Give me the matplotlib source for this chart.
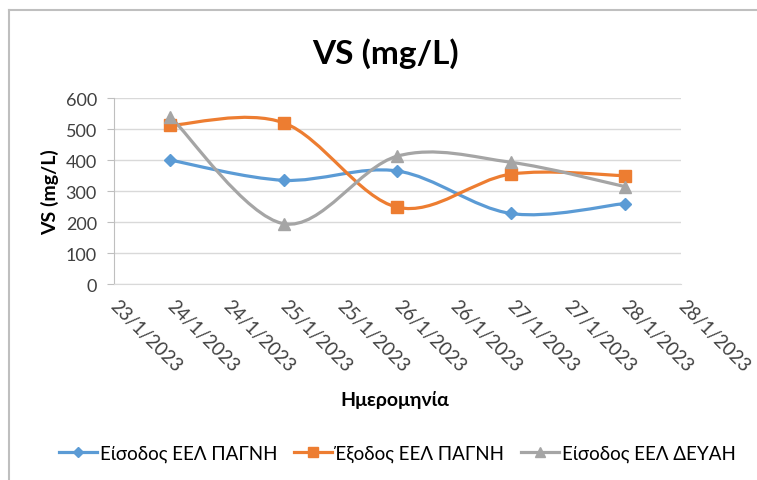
import matplotlib
matplotlib.use("Agg")
import matplotlib.pyplot as plt
import matplotlib.dates as mdates
import matplotlib.transforms as mtransforms
from matplotlib.path import Path
from matplotlib.patches import PathPatch
from matplotlib.lines import Line2D
from matplotlib.ticker import FuncFormatter, MultipleLocator
from datetime import datetime, timedelta

plt.rcParams['font.family'] = ['Lato', 'Open Sans', 'DejaVu Sans']

dates = [datetime(2023, 1, d) for d in (24, 25, 26, 27, 28)]
series_names = ["Είσοδος ΕΕΛ ΠΑΓΝΗ", "Έξοδος ΕΕΛ ΠΑΓΝΗ", "Είσοδος ΕΕΛ ΔΕΥΑΗ"]
eisodos_pagni = [400, 335, 365, 228, 260]
exodos_pagni = [512, 520, 248, 355, 350]
eisodos_deyah = [540, 195, 413, 393, 315]
values = [eisodos_pagni, exodos_pagni, eisodos_deyah]
colors = ["#5B9BD5", "#ED7D31", "#A5A5A5"]
markers = ["D", "s", "^"]
msizes = [6.5, 8, 8.5]

title = "VS (mg/L)"
ylabel = "VS (mg/L)"
xlabel = "Ημερομηνία"

fig = plt.figure(figsize=(7.57, 4.81), dpi=100)
ax = fig.add_axes([0.150, 0.407, 0.750, 0.387])

def smooth_path(xs, ys):
    pts = list(zip(xs, ys))
    n = len(pts)
    verts = [pts[0]]
    codes = [Path.MOVETO]
    for i in range(n - 1):
        p0 = pts[i - 1] if i > 0 else pts[i]
        p1 = pts[i]
        p2 = pts[i + 1]
        p3 = pts[i + 2] if i + 2 < n else pts[i + 1]
        c1 = (p1[0] + (p2[0] - p0[0]) / 6.0, p1[1] + (p2[1] - p0[1]) / 6.0)
        c2 = (p2[0] - (p3[0] - p1[0]) / 6.0, p2[1] - (p3[1] - p1[1]) / 6.0)
        verts += [c1, c2, p2]
        codes += [Path.CURVE4] * 3
    return Path(verts, codes)

xnum = mdates.date2num(dates)
handles = []
for name, vals, c, m, ms in zip(series_names, values, colors, markers, msizes):
    patch = PathPatch(smooth_path(xnum, vals), facecolor='none', edgecolor=c,
                      lw=2.3, zorder=3, capstyle='round', joinstyle='round')
    ax.add_patch(patch)
    ax.plot(xnum, vals, linestyle='none', marker=m, markersize=ms, color=c,
            markeredgecolor=c, zorder=4)
    handles.append(Line2D([], [], color=c, lw=2.3, marker=m, markersize=ms - 1, label=name))

start = datetime(2023, 1, 23, 12)
ticks = [start + timedelta(hours=12 * i) for i in range(11)]
ax.set_xlim(mdates.date2num(ticks[0]), mdates.date2num(ticks[-1]))
ax.set_xticks(mdates.date2num(ticks))
ax.xaxis.set_major_formatter(FuncFormatter(
    lambda v, p: "{d.day}/{d.month}/{d.year}".format(d=mdates.num2date(v))))
ax.set_ylim(0, 600)
ax.yaxis.set_major_locator(MultipleLocator(100))

ax.grid(axis='y', color='#D9D9D9', lw=1)
ax.set_axisbelow(True)
for s in ['top', 'right']:
    ax.spines[s].set_visible(False)
ax.spines['left'].set_color('#BFBFBF')
ax.spines['bottom'].set_color('#D9D9D9')
ax.tick_params(axis='y', labelsize=13, length=5, color='#BFBFBF', pad=7,
               labelcolor='#404040')
ax.tick_params(axis='x', labelsize=13.5, length=0, pad=9, labelcolor='#404040')
offset = mtransforms.ScaledTranslation(5 / 100, 0, fig.dpi_scale_trans)
for lab in ax.get_xticklabels():
    lab.set_rotation(-45)
    lab.set_ha('left')
    lab.set_va('top')
    lab.set_rotation_mode('anchor')
    lab.set_transform(lab.get_transform() + offset)

fig.text(0.509, 0.888, title, ha='center', va='center', fontsize=24, fontweight='bold',
         color='#000000')
fig.text(0.066, 0.6, ylabel, ha='center', va='center', rotation=90, fontsize=14,
         fontweight='bold', color='#000000')
fig.text(0.522, 0.168, xlabel, ha='center', va='center', fontsize=14,
         fontweight='bold', color='#000000')

leg = fig.legend(handles=handles, loc='center', bbox_to_anchor=(0.525, 0.055), ncol=3,
                 frameon=False, fontsize=13.5, handlelength=2.0, handletextpad=0.15,
                 columnspacing=0.9)
for t in leg.get_texts():
    t.set_color('#000000')

fig.add_artist(Line2D([0.012, 0.012], [0.0, 0.977], transform=fig.transFigure,
                      color='#BFBFBF', lw=1.5))
fig.add_artist(Line2D([0.012, 1.0], [0.977, 0.977], transform=fig.transFigure,
                      color='#BFBFBF', lw=1.5))

fig.savefig("out.png", dpi=100)
